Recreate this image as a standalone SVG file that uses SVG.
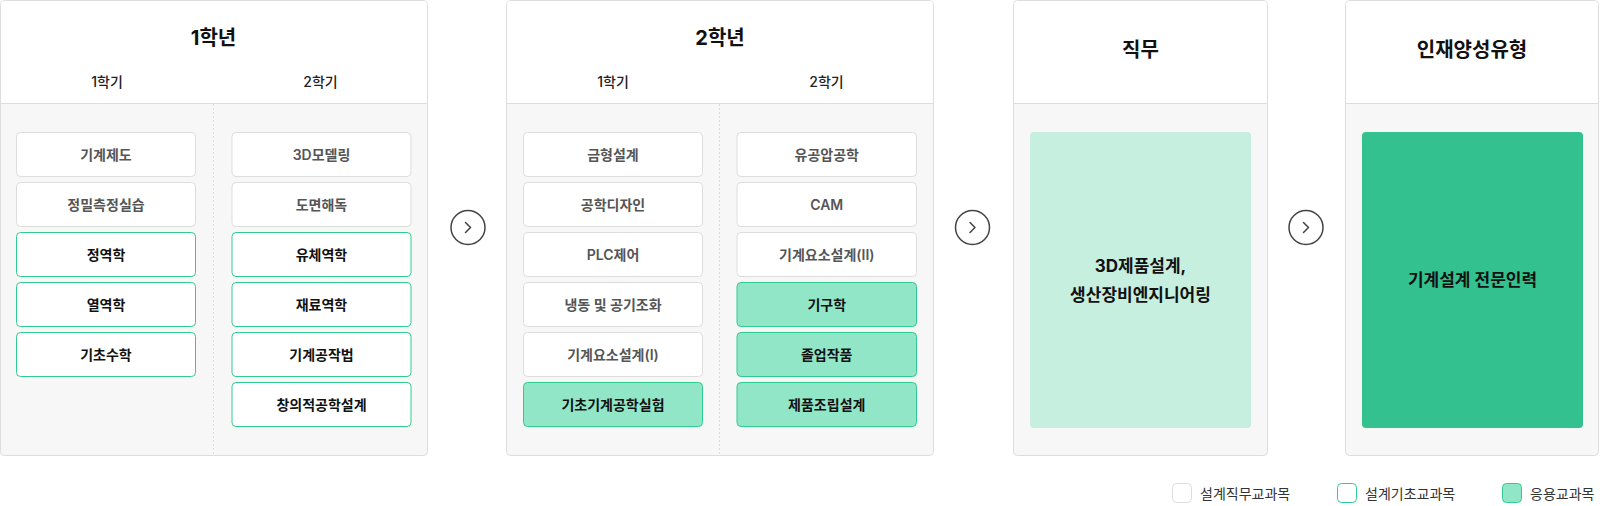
<svg xmlns="http://www.w3.org/2000/svg" width="1600" height="506" viewBox="0 0 1600 506">
<style>
text{font-family:Inter,"Noto Sans CJK KR","Noto Sans",sans-serif;text-anchor:middle;dominant-baseline:central}
.panel{fill:#f7f7f7;stroke:#dddddd;stroke-width:1}
.head{fill:#ffffff}
.hline{stroke:#dddddd;stroke-width:1}
.div{stroke:#dddddd;stroke-width:1;stroke-dasharray:2 2}
.title{font-size:20px;font-weight:700;fill:#111}
.sem{font-size:14px;font-weight:500;fill:#222}
.b-gray rect{fill:#fff;stroke:#dddddd}
.b-gray text{font-size:14px;font-weight:600;fill:#555}
.b-line rect{fill:#fff;stroke:#2fcc8f}
.b-line text{font-size:14px;font-weight:700;fill:#111}
.b-fill rect{fill:#92e6c8;stroke:#2fcc8f}
.b-fill text{font-size:14px;font-weight:700;fill:#111}
.big{font-size:17px;font-weight:700;fill:#111}
.circ{fill:#fff;stroke:#444;stroke-width:1.5}
.chev{fill:none;stroke:#444;stroke-width:1.5;stroke-linecap:round;stroke-linejoin:round}
.leg{font-size:14px;font-weight:400;fill:#333;text-anchor:start}
</style>

<g id="panel-year1">
<rect class="panel" x="0.5" y="0.5" width="427" height="455" rx="4"/>
<path class="head" d="M1,103 V4.5 A3.5,3.5 0 0 1 4.5,1 H423.5 A3.5,3.5 0 0 1 427,4.5 V103 Z"/>
<line class="hline" x1="0.5" y1="103.5" x2="427.5" y2="103.5"/>
<line class="div" x1="213.5" y1="104" x2="213.5" y2="455"/>
<text class="title" x="213.5" y="38">1학년</text>
<text class="sem" x="107" y="81">1학기</text>
<text class="sem" x="320.5" y="81">2학기</text>
</g>

<g id="panel-year2">
<rect class="panel" x="506.5" y="0.5" width="427" height="455" rx="4"/>
<path class="head" d="M507,103 V4.5 A3.5,3.5 0 0 1 510.5,1 H929.5 A3.5,3.5 0 0 1 933,4.5 V103 Z"/>
<line class="hline" x1="506.5" y1="103.5" x2="933.5" y2="103.5"/>
<line class="div" x1="719.5" y1="104" x2="719.5" y2="455"/>
<text class="title" x="720" y="38">2학년</text>
<text class="sem" x="613" y="81">1학기</text>
<text class="sem" x="826.5" y="81">2학기</text>
</g>

<g id="panel-job">
<rect class="panel" x="1013.5" y="0.5" width="254" height="455" rx="4"/>
<path class="head" d="M1014,103 V4.5 A3.5,3.5 0 0 1 1017.5,1 H1263.5 A3.5,3.5 0 0 1 1267,4.5 V103 Z"/>
<line class="hline" x1="1013.5" y1="103.5" x2="1267.5" y2="103.5"/>
<text class="title" x="1140.5" y="50">직무</text>
</g>

<g id="panel-talent">
<rect class="panel" x="1345.5" y="0.5" width="253" height="455" rx="4"/>
<path class="head" d="M1346,103 V4.5 A3.5,3.5 0 0 1 1349.5,1 H1594.5 A3.5,3.5 0 0 1 1598,4.5 V103 Z"/>
<line class="hline" x1="1345.5" y1="103.5" x2="1598.5" y2="103.5"/>
<text class="title" x="1472" y="50">인재양성유형</text>
</g>

<!-- Year 1, semester 1 -->
<g id="n-gijyejedo" class="b-gray"><rect x="16.5" y="132.5" width="179" height="44" rx="4"/><text x="106" y="154.5">기계제도</text></g>
<g id="n-jeongmil" class="b-gray"><rect x="16.5" y="182.5" width="179" height="44" rx="4"/><text x="106" y="204.5">정밀측정실습</text></g>
<g id="n-jeongyeokhak" class="b-line"><rect x="16.5" y="232.5" width="179" height="44" rx="4"/><text x="106" y="254.5">정역학</text></g>
<g id="n-yeolyeokhak" class="b-line"><rect x="16.5" y="282.5" width="179" height="44" rx="4"/><text x="106" y="304.5">열역학</text></g>
<g id="n-gichosuhak" class="b-line"><rect x="16.5" y="332.5" width="179" height="44" rx="4"/><text x="106" y="354.5">기초수학</text></g>

<!-- Year 1, semester 2 -->
<g id="n-3dmodeling" class="b-gray"><rect x="232" y="132.5" width="179" height="44" rx="4"/><text x="321.5" y="154.5">3D모델링</text></g>
<g id="n-domyeon" class="b-gray"><rect x="232" y="182.5" width="179" height="44" rx="4"/><text x="321.5" y="204.5">도면해독</text></g>
<g id="n-yuche" class="b-line"><rect x="232" y="232.5" width="179" height="44" rx="4"/><text x="321.5" y="254.5">유체역학</text></g>
<g id="n-jaeryo" class="b-line"><rect x="232" y="282.5" width="179" height="44" rx="4"/><text x="321.5" y="304.5">재료역학</text></g>
<g id="n-gongjak" class="b-line"><rect x="232" y="332.5" width="179" height="44" rx="4"/><text x="321.5" y="354.5">기계공작법</text></g>
<g id="n-changui" class="b-line"><rect x="232" y="382.5" width="179" height="44" rx="4"/><text x="321.5" y="404.5">창의적공학설계</text></g>

<!-- Year 2, semester 1 -->
<g id="n-geumhyeong" class="b-gray"><rect x="523.5" y="132.5" width="179" height="44" rx="4"/><text x="613" y="154.5">금형설계</text></g>
<g id="n-gonghakdesign" class="b-gray"><rect x="523.5" y="182.5" width="179" height="44" rx="4"/><text x="613" y="204.5">공학디자인</text></g>
<g id="n-plc" class="b-gray"><rect x="523.5" y="232.5" width="179" height="44" rx="4"/><text x="613" y="254.5">PLC제어</text></g>
<g id="n-naengdong" class="b-gray"><rect x="523.5" y="282.5" width="179" height="44" rx="4"/><text x="613" y="304.5">냉동 및 공기조화</text></g>
<g id="n-yoso1" class="b-gray"><rect x="523.5" y="332.5" width="179" height="44" rx="4"/><text x="613" y="354.5">기계요소설계(I)</text></g>
<g id="n-gichosilheom" class="b-fill"><rect x="523.5" y="382.5" width="179" height="44" rx="4"/><text x="613" y="404.5">기초기계공학실험</text></g>

<!-- Year 2, semester 2 -->
<g id="n-yugongap" class="b-gray"><rect x="737" y="132.5" width="179.5" height="44" rx="4"/><text x="826.75" y="154.5">유공압공학</text></g>
<g id="n-cam" class="b-gray"><rect x="737" y="182.5" width="179.5" height="44" rx="4"/><text x="826.75" y="204.5">CAM</text></g>
<g id="n-yoso2" class="b-gray"><rect x="737" y="232.5" width="179.5" height="44" rx="4"/><text x="826.75" y="254.5">기계요소설계(II)</text></g>
<g id="n-gigu" class="b-fill"><rect x="737" y="282.5" width="179.5" height="44" rx="4"/><text x="826.75" y="304.5">기구학</text></g>
<g id="n-joreop" class="b-fill"><rect x="737" y="332.5" width="179.5" height="44" rx="4"/><text x="826.75" y="354.5">졸업작품</text></g>
<g id="n-jepumjorip" class="b-fill"><rect x="737" y="382.5" width="179.5" height="44" rx="4"/><text x="826.75" y="404.5">제품조립설계</text></g>

<!-- Job -->
<g id="n-job">
<rect x="1030" y="132" width="221" height="296" rx="4" fill="#c6efdf"/>
<text class="big" x="1140.5" y="266">3D제품설계,</text>
<text class="big" x="1140.5" y="295">생산장비엔지니어링</text>
</g>

<!-- Talent type -->
<g id="n-talent">
<rect x="1362" y="132" width="221" height="296" rx="4" fill="#33c18f"/>
<text class="big" x="1472.5" y="280">기계설계 전문인력</text>
</g>

<g id="connectors">
<circle class="circ" cx="468" cy="227.5" r="17"/>
<path class="chev" d="M465.5,222.5 L470.5,227.5 L465.5,232.5"/>
<circle class="circ" cx="972.5" cy="227.5" r="17"/>
<path class="chev" d="M970,222.5 L975,227.5 L970,232.5"/>
<circle class="circ" cx="1306" cy="227.5" r="17"/>
<path class="chev" d="M1303.5,222.5 L1308.5,227.5 L1303.5,232.5"/>
</g>

<g id="legend">
<rect x="1172.5" y="483.5" width="19" height="19" rx="4" fill="#fff" stroke="#dddddd"/>
<text class="leg" x="1200" y="493">설계직무교과목</text>
<rect x="1337.5" y="483.5" width="19" height="19" rx="4" fill="#fff" stroke="#2fcc8f"/>
<text class="leg" x="1365" y="493">설계기초교과목</text>
<rect x="1502.5" y="483.5" width="19" height="19" rx="4" fill="#92e6c8" stroke="#2fcc8f"/>
<text class="leg" x="1530" y="493">응용교과목</text>
</g>
</svg>
